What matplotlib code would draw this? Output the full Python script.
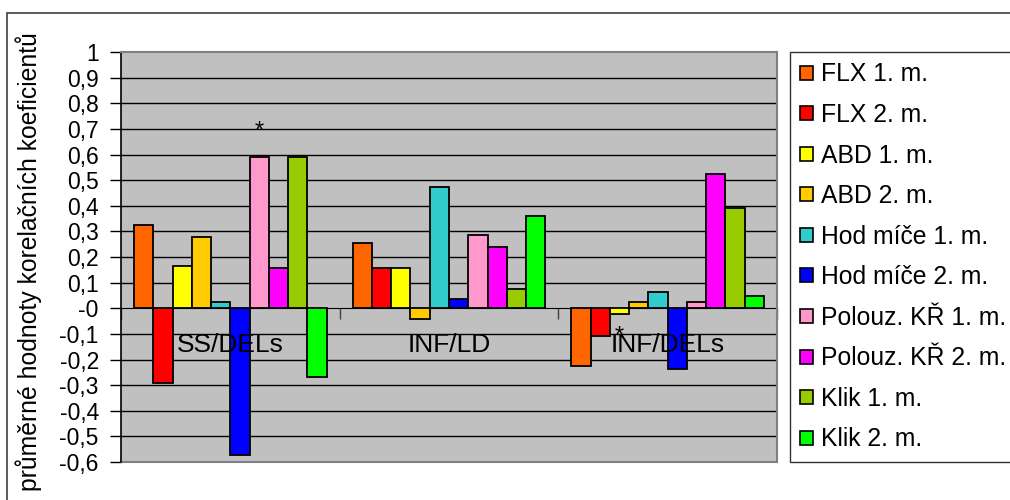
import numpy as np
import matplotlib
matplotlib.use("Agg")
import matplotlib.pyplot as plt
from matplotlib.patches import Patch

plt.rcParams["font.family"] = ["Liberation Sans", "DejaVu Sans"]

# ---------------- data ----------------
categories = ["SS/DELs", "INF/LD", "INF/DELs"]
series = ["FLX 1. m.", "FLX 2. m.", "ABD 1. m.", "ABD 2. m.", "Hod míče 1. m.",
          "Hod míče 2. m.", "Polouz. KŘ 1. m.", "Polouz. KŘ 2. m.", "Klik 1. m.", "Klik 2. m."]
colors = ["#FF6600", "#FF0000", "#FFFF00", "#FFCC00", "#33CCCC",
          "#0000FF", "#FF99CC", "#FF00FF", "#99CC00", "#00FF00"]

ss_dels = [0.325, -0.293, 0.165, 0.279, 0.026, -0.573, 0.591, 0.157, 0.591, -0.267]
inf_ld = [0.256, 0.157, 0.157, -0.042, 0.474, 0.035, 0.286, 0.238, 0.074, 0.361]
inf_dels = [-0.224, -0.108, -0.024, 0.026, 0.065, -0.238, 0.026, 0.522, 0.392, 0.049]
values = np.array([ss_dels, inf_ld, inf_dels])  # rows = categories

# significant results (category index, series index, y of the star)
stars = [(0, 6, 0.69), (2, 2, -0.11)]

yticks = np.round(np.arange(-0.6, 1.01, 0.1), 1)

# ---------------- figure ----------------
fig = plt.figure(figsize=(10.1, 5.0), dpi=100)
fig.patches.append(plt.Rectangle((7 / 1010, -0.1), 1.1, 1 - 13 / 500 + 0.1,
                                 transform=fig.transFigure, fill=False,
                                 edgecolor="#404040", linewidth=1.2))

ax = fig.add_axes([121 / 1010, 1 - 462 / 500, 656 / 1010, 410 / 500])
ax.set_facecolor("#C0C0C0")

n = len(series)
bar_w = 1 / 11.35
start = (1 - n * bar_w) / 2
x0 = np.arange(len(categories))
for j in range(n):
    ax.bar(x0 + start + (j + 0.5) * bar_w, values[:, j], width=bar_w,
           color=colors[j], edgecolor="black", linewidth=1.3, zorder=3)

for ci, sj, ys in stars:
    ax.text(ci + start + (sj + 0.5) * bar_w, ys, "*", ha="center", va="center",
            fontsize=17, zorder=4)

for i, cat in enumerate(categories):
    ax.text(i + 0.5, -0.143, cat, ha="center", va="center", fontsize=19, zorder=5)

ax.set_xlim(0, 3)
ax.set_ylim(-0.6, 1.0)

# grid
for y in yticks:
    if -0.6 < y < 1.0 and y != 0:
        ax.axhline(y, color="black", linewidth=1.0, zorder=1)

ax.set_yticks(yticks)
ax.set_yticklabels([("%g" % y).replace(".", ",") for y in yticks], fontsize=16.5)
ax.tick_params(axis="y", direction="out", length=8, width=1, pad=8)

# category axis crosses at zero
ax.spines["bottom"].set_position(("data", 0))
ax.spines["bottom"].set_color("black")
ax.spines["bottom"].set_zorder(2)
ax.set_xticks([0, 1, 2, 3])
ax.set_xticklabels([])
ax.tick_params(axis="x", direction="out", length=8, width=1, color="#404040")

ax.spines["left"].set_color("black")
ax.spines["left"].set_linewidth(1.2)
for s in ["top", "right"]:
    ax.spines[s].set_color("#808080")
    ax.spines[s].set_linewidth(1.5)
ax.axhline(-0.6, color="#808080", linewidth=1.5, clip_on=False, zorder=2)

fig.text(29 / 1010, 1 - 262 / 500, "průměrné hodnoty korelačních koeficientů",
         rotation=90, ha="center", va="center", fontsize=17.8)

handles = [Patch(facecolor=c, edgecolor="black", linewidth=1.2) for c in colors]
leg = fig.legend(handles, series, loc="upper left",
                 bbox_to_anchor=(790 / 1010, 1 - 52 / 500), borderaxespad=0,
                 fontsize=17.8, frameon=True, fancybox=False, edgecolor="black",
                 handlelength=0.5, handleheight=0.5, handletextpad=0.35,
                 labelspacing=0.67, borderpad=0.42)
leg.get_frame().set_linewidth(1.0)

fig.savefig("out.png", dpi=100)
